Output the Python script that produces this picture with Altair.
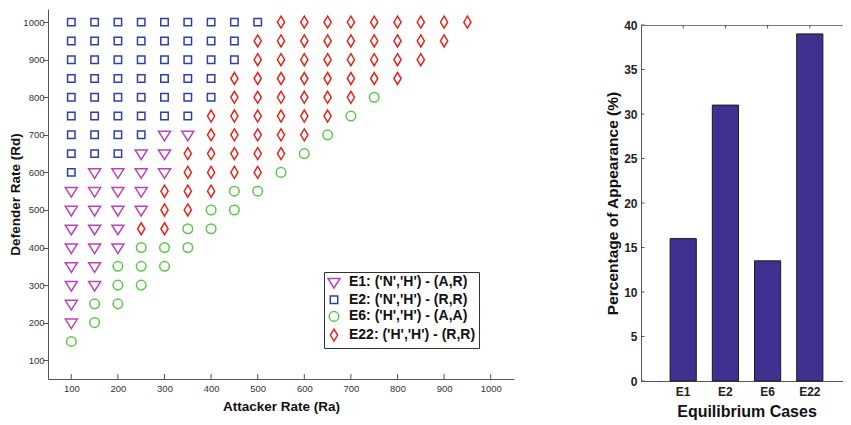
import altair as alt
import pandas as pd

FONT = "Liberation Sans"

# ---------------- data ----------------
ra_values = [100, 150, 200, 250, 300, 350, 400, 450, 500, 550, 600, 650, 700, 750, 800, 850, 900, 950]
rd_values = [1000, 950, 900, 850, 800, 750, 700, 650, 600, 550, 500, 450, 400, 350, 300, 250, 200, 150]
# one string per Rd row; char j is the case at Ra = ra_values[j]
# T = E1, S = E2, O = E6, D = E22
row_codes = [
    "SSSSSSSSSDDDDDDDDD",
    "SSSSSSSSDDDDDDDDD",
    "SSSSSSSSDDDDDDDD",
    "SSSSSSSDDDDDDDD",
    "SSSSSSSDDDDDDO",
    "SSSSSSDDDDDDO",
    "SSSSTTDDDDDO",
    "SSSTTDDDDDO",
    "STTTTDDDDO",
    "TTTTDDDOO",
    "TTTTDDOO",
    "TTTDDOO",
    "TTTOOO",
    "TTOOO",
    "TTOO",
    "TOO",
    "TO",
    "O",
]

case_codes = ["T", "S", "O", "D"]
case_labels = [
    "E1: ('N','H') - (A,R)",
    "E2: ('N','H') - (R,R)",
    "E6: ('H','H') - (A,A)",
    "E22: ('H','H') - (R,R)",
]
case_colors = ["#BA42BA", "#2F3FA8", "#5BC84A", "#E3261C"]
case_shapes = [
    "M-1,-0.6L1,-0.6L0,1Z",
    "M-0.62,-0.62L0.62,-0.62L0.62,0.62L-0.62,0.62Z",
    "M0.8,0A0.8,0.8,0,1,1,-0.8,0A0.8,0.8,0,1,1,0.8,0Z",
    "M0,-1L0.6,0L0,1L-0.6,0Z",
]

bar_cases = ["E1", "E2", "E6", "E22"]
bar_percent = [16.0, 31.0, 13.5, 39.0]

x_ticks = [100, 200, 300, 400, 500, 600, 700, 800, 900, 1000]
y_ticks = [100, 200, 300, 400, 500, 600, 700, 800, 900, 1000]
pct_ticks = [0, 5, 10, 15, 20, 25, 30, 35, 40]

# ---------------- tables ----------------
code_to_label = dict(zip(case_codes, case_labels))
rows = []
for rd, codes in zip(rd_values, row_codes):
    for ra, c in zip(ra_values, codes):
        rows.append({"Ra": ra, "Rd": rd, "case": code_to_label[c]})
pts_df = pd.DataFrame(rows)
xt_df = pd.DataFrame({"Ra": x_ticks})

bar_df = pd.DataFrame({"case": bar_cases, "pct": bar_percent})
pt_df = pd.DataFrame({"pct": pct_ticks})
ct_df = pd.DataFrame({"case": bar_cases})

LEG_EXPR = "length(datum.label) < 22 ? '\u2007' + datum.label : datum.label"

# ---------------- left chart ----------------
W1, H1 = 466, 370
xscale1 = alt.Scale(domain=[50, 1050], nice=False, zero=False)
yscale1 = alt.Scale(domain=[50, 1035], nice=False, zero=False)

leg = dict(title=None, orient="none", legendX=276, legendY=263, labelExpr=LEG_EXPR)

points = alt.Chart(pts_df).mark_point(filled=False, strokeWidth=1.5, opacity=1, size=144).encode(
    x=alt.X("Ra:Q", scale=xscale1,
            axis=alt.Axis(values=x_ticks, format="d", title="Attacker Rate (Ra)", ticks=False,
                          tickSize=0, labelPadding=4, titlePadding=7, grid=False)),
    y=alt.Y("Rd:Q", scale=yscale1,
            axis=alt.Axis(values=y_ticks, format="d", title="Defender Rate (Rd)", tickSize=5,
                          labelPadding=-1, titlePadding=0, grid=False)),
    color=alt.Color("case:N", scale=alt.Scale(domain=case_labels, range=case_colors),
                    legend=alt.Legend(**leg)),
    shape=alt.Shape("case:N", scale=alt.Scale(domain=case_labels, range=case_shapes),
                    legend=alt.Legend(**leg)),
)

xticks_in = alt.Chart(xt_df).mark_rule(color="#555", strokeWidth=1).encode(
    x=alt.X("Ra:Q", scale=xscale1),
    y=alt.value(H1 - 5),
    y2=alt.value(H1),
)

left = alt.layer(points, xticks_in).properties(
    width=W1, height=H1, view=alt.ViewBackground(stroke="transparent")
)

# ---------------- right chart ----------------
W2, H2 = 211, 356
xscale2 = alt.Scale(domain=bar_cases, paddingInner=0.38, paddingOuter=0.69)
yscale2 = alt.Scale(domain=[0, 40], nice=False)

bars = alt.Chart(bar_df).mark_bar(color="#3F3190", stroke="#1A1A1A", strokeWidth=1).encode(
    x=alt.X("case:N", scale=xscale2, sort=bar_cases,
            axis=alt.Axis(title="Equilibrium Cases", labelAngle=0, ticks=False, tickSize=0,
                          labelPadding=5, titlePadding=6, labelFontWeight="bold",
                          labelFontSize=12, titleFontSize=16, labelColor="#222")),
    y=alt.Y("pct:Q", scale=yscale2,
            axis=alt.Axis(values=pct_ticks, title="Percentage of Appearance (%)", ticks=False,
                          tickSize=0, labelPadding=4, titlePadding=3, grid=False,
                          labelFontWeight="bold", labelFontSize=12, titleFontSize=15.5,
                          labelColor="#222")),
)

lt = alt.Chart(pt_df).mark_rule(color="#555").encode(
    y=alt.Y("pct:Q", scale=yscale2), x=alt.value(0), x2=alt.value(3.5))
rt = alt.Chart(pt_df).mark_rule(color="#555").encode(
    y=alt.Y("pct:Q", scale=yscale2), x=alt.value(W2 - 3.5), x2=alt.value(W2))
tt = alt.Chart(ct_df).mark_rule(color="#555").encode(
    x=alt.X("case:N", scale=xscale2, sort=bar_cases, bandPosition=0.5),
    y=alt.value(0), y2=alt.value(3.5))

right = alt.layer(bars, lt, rt, tt).properties(
    width=W2, height=H2,
    view=alt.ViewBackground(stroke="#777", strokeWidth=1),
)

# invisible strip that pushes the bar panel down relative to the scatter panel
spacer = alt.Chart(ct_df).mark_rule(opacity=0).encode(
    x=alt.value(0), y=alt.value(0), y2=alt.value(1)
).properties(width=W2, height=1, view=alt.ViewBackground(stroke="transparent"))

right_col = alt.vconcat(spacer, right, spacing=7)

chart = alt.hconcat(left, right_col, spacing=90).properties(
    padding={"left": 0, "top": 0, "right": -10, "bottom": 0}
).configure(
    font=FONT,
).configure_axis(
    labelFont=FONT, titleFont=FONT, labelFontSize=9.5, labelColor="#333",
    titleFontSize=13.5, titleFontWeight="bold", titleColor="#111",
    domainColor="#555", tickColor="#555",
).configure_legend(
    labelFont=FONT, labelFontSize=14, labelFontWeight="bold", labelColor="#111",
    symbolSize=144, symbolStrokeWidth=1.5, strokeColor="#333", fillColor="white",
    padding=3, rowPadding=1.7, labelOffset=8, labelLimit=400,
)

chart.save("out.html", embed_options={"renderer": "svg", "actions": False})
